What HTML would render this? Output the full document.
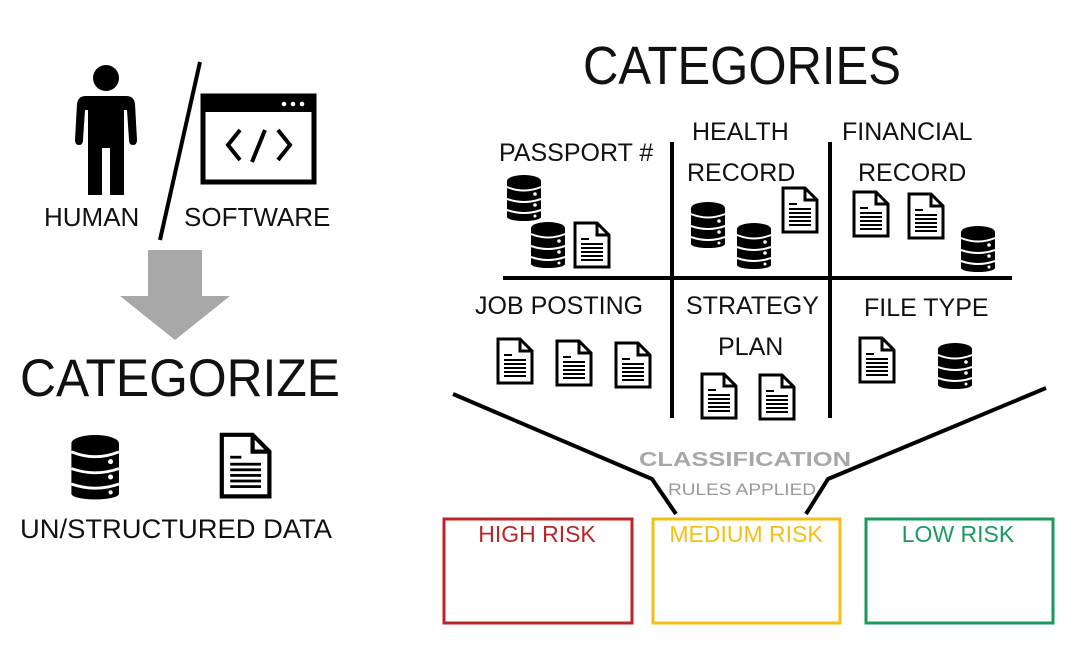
<!DOCTYPE html>
<html><head><meta charset="utf-8"><style>
html,body{margin:0;padding:0;background:#fff;}
svg{display:block}
text{font-family:"Liberation Sans",sans-serif;}
</style></head><body>
<svg width="1080" height="646" viewBox="0 0 1080 646" xmlns="http://www.w3.org/2000/svg">
<defs>
<g id="db">
  <ellipse cx="18" cy="6" rx="17" ry="6" fill="#000"/>
  <rect x="1" y="6" width="34" height="36" fill="#000"/>
  <ellipse cx="18" cy="42" rx="17" ry="4" fill="#000"/>
  <path d="M1 12 Q18 19 35 12" stroke="#fff" stroke-width="2" fill="none"/>
  <path d="M1 24 Q18 30 35 24" stroke="#fff" stroke-width="2" fill="none"/>
  <path d="M1 35 Q18 41 35 35" stroke="#fff" stroke-width="2" fill="none"/>
  <circle cx="29" cy="19" r="1.8" fill="#fff"/>
  <circle cx="29" cy="30" r="1.8" fill="#fff"/>
  <circle cx="29" cy="41" r="1.5" fill="#fff"/>
</g>
<g id="doc">
  <path d="M2 2 H24 L36 14 V46 H2 Z" fill="#fff" stroke="#000" stroke-width="3" stroke-linejoin="miter"/>
  <path d="M24 2 V14 H36" fill="none" stroke="#000" stroke-width="3"/>
  <rect x="8" y="17" width="8" height="2" fill="#000"/>
  <rect x="8" y="22" width="22" height="2" fill="#000"/>
  <rect x="8" y="26" width="22" height="2" fill="#000"/>
  <rect x="8" y="30" width="22" height="2" fill="#000"/>
  <rect x="8" y="34" width="22" height="2" fill="#000"/>
  <rect x="8" y="38" width="22" height="2" fill="#000"/>
</g>
</defs>

<!-- person -->
<circle cx="106" cy="78" r="13" fill="#000"/>
<path d="M86 96 H126 Q134 96 135 104 L137 140 Q137 145 133 145 Q129 145 129 140 L127 110 L124 110 L124 195 L110 195 L110 148 L102 148 L102 195 L88 195 L88 110 L85 110 L83 140 Q83 145 79 145 Q75 145 75 140 L77 104 Q78 96 86 96 Z" fill="#000"/>
<!-- slash -->
<line x1="200" y1="62" x2="160" y2="240" stroke="#000" stroke-width="4"/>
<!-- window -->
<rect x="203" y="96" width="111" height="86" fill="none" stroke="#000" stroke-width="5"/>
<rect x="203" y="96" width="111" height="16" fill="#000"/>
<circle cx="284" cy="104" r="2.3" fill="#fff"/><circle cx="293" cy="104" r="2.3" fill="#fff"/><circle cx="302" cy="104" r="2.3" fill="#fff"/>
<path d="M240 130 L228 145 L240 160" fill="none" stroke="#000" stroke-width="4"/>
<path d="M278 130 L290 145 L278 160" fill="none" stroke="#000" stroke-width="4"/>
<line x1="265" y1="130" x2="252" y2="162" stroke="#000" stroke-width="4"/>
<text x="44" y="226" font-size="26" fill="#111">HUMAN</text>
<text x="184" y="226" font-size="26" fill="#111">SOFTWARE</text>
<!-- arrow -->
<rect x="148" y="250" width="54" height="48" fill="#a8a8a8"/>
<polygon points="120,296 230,296 175,340" fill="#a8a8a8"/>
<text x="20" y="396" font-size="53" fill="#111" textLength="320" lengthAdjust="spacingAndGlyphs">CATEGORIZE</text>
<use href="#db" transform="translate(70,435) scale(1.4)"/>
<use href="#doc" transform="translate(219,432) scale(1.4)"/>
<text x="20" y="538" font-size="27" fill="#111" textLength="312" lengthAdjust="spacingAndGlyphs">UN/STRUCTURED DATA</text>

<!-- right -->
<text x="583" y="84" font-size="54" fill="#111" textLength="318" lengthAdjust="spacingAndGlyphs">CATEGORIES</text>
<line x1="672" y1="142" x2="672" y2="418" stroke="#000" stroke-width="4"/>
<line x1="830" y1="142" x2="830" y2="418" stroke="#000" stroke-width="4"/>
<line x1="503" y1="278" x2="1012" y2="278" stroke="#000" stroke-width="4"/>

<text x="499" y="161" font-size="25" fill="#111">PASSPORT #</text>
<text x="692" y="140" font-size="25" fill="#111">HEALTH</text>
<text x="687" y="181" font-size="25" fill="#111">RECORD</text>
<text x="842" y="140" font-size="25" fill="#111">FINANCIAL</text>
<text x="858" y="181" font-size="25" fill="#111">RECORD</text>
<text x="475" y="314" font-size="25" fill="#111">JOB POSTING</text>
<text x="686" y="314" font-size="25" fill="#111">STRATEGY</text>
<text x="718" y="355" font-size="25" fill="#111">PLAN</text>
<text x="864" y="316" font-size="25" fill="#111">FILE TYPE</text>

<use href="#db" transform="translate(506,175)"/>
<use href="#db" transform="translate(530,222)"/>
<use href="#doc" transform="translate(573,221)"/>
<use href="#db" transform="translate(690,202)"/>
<use href="#db" transform="translate(736,223)"/>
<use href="#doc" transform="translate(781,186)"/>
<use href="#doc" transform="translate(852,190)"/>
<use href="#doc" transform="translate(907,192)"/>
<use href="#db" transform="translate(960,226)"/>
<use href="#doc" transform="translate(496,337)"/>
<use href="#doc" transform="translate(555,339)"/>
<use href="#doc" transform="translate(614,341)"/>
<use href="#doc" transform="translate(700,372)"/>
<use href="#doc" transform="translate(758,373)"/>
<use href="#doc" transform="translate(858,336)"/>
<use href="#db" transform="translate(937,343)"/>

<!-- funnel -->
<polyline points="453,394 652,479 676,514" fill="none" stroke="#000" stroke-width="4"/>
<polyline points="1046,388 828,479 806,514" fill="none" stroke="#000" stroke-width="4"/>
<text x="745" y="466" font-size="20" font-weight="bold" fill="#a8a8a8" text-anchor="middle" textLength="212" lengthAdjust="spacingAndGlyphs">CLASSIFICATION</text>
<text x="742" y="495" font-size="17" fill="#999" text-anchor="middle" textLength="148" lengthAdjust="spacingAndGlyphs">RULES APPLIED</text>

<rect x="444" y="519" width="188" height="104" fill="none" stroke="#b8262a" stroke-width="3"/>
<rect x="653" y="519" width="187" height="104" fill="none" stroke="#f5c016" stroke-width="3"/>
<rect x="866" y="519" width="187" height="104" fill="none" stroke="#1a9a5c" stroke-width="3"/>
<text x="537" y="542" font-size="23" fill="#b8262a" text-anchor="middle">HIGH RISK</text>
<text x="746" y="542" font-size="23" fill="#f5c016" text-anchor="middle">MEDIUM RISK</text>
<text x="958" y="542" font-size="23" fill="#1a9a5c" text-anchor="middle">LOW RISK</text>
</svg>
</body></html>
